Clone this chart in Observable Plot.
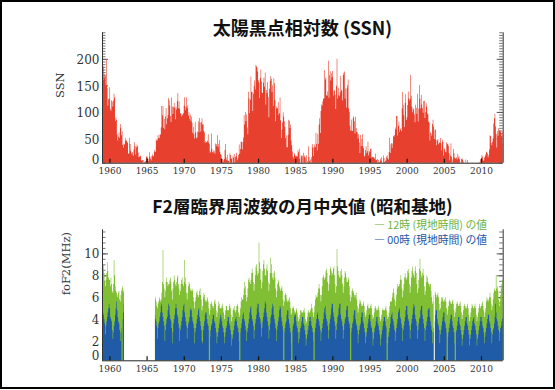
<!DOCTYPE html>
<html lang="ja">
<head>
<meta charset="utf-8">
<script src="https://cdn.jsdelivr.net/npm/d3@7"></script>
<script src="https://cdn.jsdelivr.net/npm/@observablehq/plot@0.6"></script>
<style>
html,body{margin:0;padding:0;background:#fff;}
#wrap{position:relative;width:555px;height:390px;overflow:hidden;background:#fff;}
#border{position:absolute;left:0;top:0;width:555px;height:389px;box-sizing:border-box;border:2px solid #000;pointer-events:none;}
.title{position:absolute;left:102px;width:401px;text-align:center;font-family:"Noto Sans CJK JP",sans-serif;font-weight:700;line-height:20px;color:#111;white-space:nowrap;}
.leg{position:absolute;right:68px;text-align:right;font-family:"Noto Sans CJK JP",sans-serif;font-size:10.8px;line-height:12px;white-space:nowrap;}
.chart{position:absolute;left:0;}
</style>
</head>
<body>
<div id="wrap">
  <div id="top" class="chart" style="top:0px"></div>
  <div id="bot" class="chart" style="top:190px"></div>
  <div class="title" style="top:17.3px;font-size:18px">太陽黒点相対数 (SSN)</div>
  <div class="title" style="top:196.3px;font-size:17.5px">F2層臨界周波数の月中央値 (昭和基地)</div>
  <div class="leg" style="top:218.4px;color:#6cb33e">— 12時 (現地時間) の値</div>
  <div class="leg" style="top:232.9px;color:#1d55a3">— 00時 (現地時間) の値</div>
  <div id="border"></div>
</div>
<script>
// ---------- data ----------
const SSN_START = 1959; // monthly values from Jan 1959
const ssn = [
185,160,185.7,163.3,172.0,168.7,149.6,199.6,145.2,111.4,124.0,125.0,
146.3,106.0,102.2,122.0,119.6,110.2,121.7,134.1,127.2,82.8,89.6,85.6,
57.9,46.1,53.0,61.4,51.0,77.4,70.2,55.9,63.6,37.7,32.6,40.0,
38.7,50.3,45.6,46.4,43.7,42.0,21.8,21.8,51.3,39.5,26.9,23.2,
19.8,24.4,17.1,29.3,43.0,35.9,19.6,33.2,38.8,35.3,23.4,14.9,
15.3,17.7,16.5,8.6,9.5,9.1,3.1,9.3,4.7,6.1,7.4,15.1,
17.5,14.2,11.7,6.8,24.1,15.9,11.9,8.9,16.8,20.1,15.8,17.0,
28.2,24.4,25.3,48.7,45.3,47.7,56.7,51.2,50.2,57.2,57.2,70.4,
110.9,93.6,111.8,69.5,86.5,67.3,91.5,107.2,76.8,88.2,94.3,126.4,
121.8,111.9,92.2,81.2,127.2,110.3,96.1,109.3,117.2,107.7,86.0,109.8,
104.4,120.5,135.8,106.8,120.0,106.0,96.8,98.0,91.3,95.7,93.5,97.9,
111.5,127.8,102.9,109.5,127.5,106.8,112.5,93.0,99.5,86.6,95.2,83.5,
91.3,79.0,60.7,71.8,57.5,49.8,81.0,61.4,50.2,51.7,63.2,82.2,
61.5,88.4,80.1,63.2,80.5,88.0,76.5,76.8,64.0,61.3,41.6,45.3,
43.4,42.9,46.0,57.7,42.4,39.5,23.1,25.6,59.3,30.7,23.9,23.3,
27.6,26.0,21.3,40.3,39.5,36.0,55.8,33.6,40.2,47.1,25.0,20.5,
18.9,11.5,11.5,5.1,9.0,11.4,28.2,39.7,13.9,9.1,19.4,7.8,
8.1,4.3,21.9,18.8,12.4,12.2,1.9,16.4,13.5,20.6,5.2,15.3,
16.4,23.1,8.7,12.9,18.6,38.5,21.4,30.1,44.0,43.8,29.1,43.2,
51.9,93.6,76.5,99.7,82.7,95.1,70.4,58.1,138.2,125.1,97.9,122.7,
166.6,137.5,138.0,101.5,134.4,149.5,159.4,142.2,188.4,186.2,183.3,176.3,
159.6,155.0,126.2,164.1,179.9,157.3,136.3,135.4,155.0,164.7,147.9,174.4,
114.0,141.3,135.5,156.4,127.5,90.0,143.8,158.7,167.3,162.4,137.5,150.1,
111.2,163.6,153.8,122.0,82.2,110.4,106.1,107.6,118.8,94.7,98.1,127.0,
84.3,51.0,66.5,80.7,99.2,91.1,82.2,71.8,50.3,55.8,33.3,33.4,
57.0,85.1,83.5,69.7,76.4,46.1,37.4,25.5,15.7,12.0,22.8,18.7,
16.5,15.9,17.2,16.2,27.5,24.2,30.7,11.1,3.9,18.6,16.2,17.3,
2.5,23.2,15.1,18.5,13.7,1.1,18.1,7.4,3.8,35.4,15.2,6.8,
10.4,2.4,14.7,39.6,33.0,17.4,33.0,38.7,33.9,60.6,39.9,27.1,
59.0,40.0,76.2,88.0,60.1,101.8,113.8,111.6,120.1,125.1,125.1,179.2,
161.3,165.1,131.4,130.6,138.5,196.2,126.9,168.9,176.7,159.4,173.0,165.5,
177.3,130.5,140.3,140.3,132.2,105.4,149.4,200.3,125.2,145.5,131.4,129.7,
136.9,167.5,141.9,140.0,121.3,169.7,173.7,176.3,125.3,144.1,108.2,144.4,
150.0,161.1,106.7,99.8,73.8,65.2,85.7,64.5,63.9,88.7,91.8,82.6,
59.3,91.0,69.8,62.2,61.3,49.8,57.9,42.3,22.4,56.4,35.6,48.9,
57.8,35.5,31.7,16.1,17.8,28.0,35.1,22.5,25.7,44.0,18.0,26.2,
24.2,29.9,31.1,14.0,14.5,15.6,14.5,14.3,11.8,21.1,9.0,10.0,
11.5,4.4,9.2,4.8,5.5,11.8,8.2,14.4,1.6,0.9,17.9,13.3,
5.7,7.6,8.7,15.5,18.5,12.7,10.4,24.4,51.3,22.8,39.0,41.2,
31.9,40.3,54.8,53.4,56.3,70.7,66.6,92.2,92.9,55.5,74.0,81.9,
62.0,66.3,68.8,63.7,106.4,137.7,113.5,93.7,71.5,116.7,133.2,84.6,
90.1,112.9,138.5,125.5,121.6,124.9,170.1,130.5,109.7,99.4,106.8,104.4,
95.6,80.6,113.5,107.7,96.6,134.0,81.8,106.4,150.7,125.5,106.5,132.2,
114.1,107.4,98.4,120.7,120.8,88.3,99.6,116.4,109.6,97.5,95.0,81.6,
79.5,46.2,61.5,60.0,55.2,77.4,85.0,72.7,48.8,65.5,67.3,47.0,
37.2,46.0,48.9,39.3,41.5,43.2,51.0,40.9,27.7,48.0,43.5,17.9,
31.3,29.2,24.5,24.2,42.7,39.3,40.1,36.4,21.9,8.7,18.0,41.1,
15.3,4.9,10.6,30.2,22.3,13.9,12.2,12.9,14.4,10.5,21.4,13.6,
16.8,10.7,4.5,3.4,11.7,12.1,9.7,6.0,2.4,0.9,1.7,10.1,
3.3,2.1,9.3,2.9,3.2,3.4,0.5,0.5,1.1,2.9,4.1,0.8,
1.5,1.4,0.7,1.2,2.9,2.6,3.5,0.0,4.3,4.8,4.1,10.8,
13.2,18.8,15.4,8.0,8.7,13.6,16.1,19.6,25.2,23.5,21.6,14.4,
19.0,29.4,56.2,54.4,41.6,37.0,43.9,50.6,78.0,88.0,96.7,73.0,
58.3,33.1,64.2,55.2,69.0,64.5,66.5,63.0,61.4,53.3,61.8,40.8
];

// foF2 monthly medians at Syowa (MHz). Segment A: Jan 1959 - Dec 1961
const F_A_START = 1959;
const f12a = [
8.8,8.6,9.0,8.2,7.4,7.0,7.6,8.2,9.2,8.4,7.8,7.6,
7.6,7.0,7.8,7.2,6.6,6.4,7.2,9.4,8.0,7.0,6.6,6.4,
6.2,6.0,6.4,6.6,5.8,5.6,6.2,6.6,6.8,7.0,6.6,6.4
];
const f00a = [
5.2,4.6,4.4,4.0,3.6,2.6,3.4,3.8,4.2,4.6,5.0,5.4,
5.0,4.2,4.0,3.8,3.0,2.2,2.8,3.4,3.8,4.4,5.0,5.6,
4.8,4.2,3.8,3.6,3.0,2.0,2.8,3.2,null,4.0,4.6,5.4
];
// Segment B: Jan 1966 - Dec 2012
const F_B_START = 1966;
const f12b = [
null,5.8,6.0,5.6,5.2,5.0,5.4,5.6,6.0,5.8,5.6,5.8,
6.4,7.4,10.3,7.2,6.8,6.0,6.6,7.4,7.8,7.4,7.0,7.2,
7.2,7.6,7.8,7.4,6.6,5.8,6.8,7.4,8.0,7.6,7.2,7.0,
7.4,7.8,8.0,7.2,6.8,6.2,6.6,7.2,7.6,7.8,7.2,7.0,
7.4,9.4,7.8,7.2,6.4,5.8,6.4,7.0,7.4,7.2,6.8,6.6,
6.6,6.8,6.6,6.0,5.6,5.0,5.6,6.0,6.4,6.6,6.2,6.0,
6.2,6.6,6.8,6.2,5.8,4.8,5.2,6.0,6.4,6.2,5.8,5.6,
5.6,5.8,6.0,5.6,5.0,4.4,4.8,5.4,5.6,5.4,5.2,5.0,
5.2,5.6,5.8,5.4,4.8,4.2,4.6,5.2,5.6,5.4,5.0,5.0,
5.0,5.2,5.4,5.0,4.6,4.0,4.4,4.8,5.2,5.2,4.8,4.8,
4.8,5.2,5.4,5.0,4.4,3.8,4.2,4.8,5.0,5.2,4.8,4.6,
4.8,5.2,5.4,5.2,4.6,4.2,4.4,5.0,5.6,6.0,5.8,5.8,
6.2,6.8,7.4,7.0,6.2,5.6,6.0,6.8,7.6,7.8,7.4,7.2,
7.6,8.2,8.6,8.2,7.4,6.6,7.2,8.0,8.8,9.0,8.4,8.0,
8.2,11.0,9.2,8.6,7.6,6.8,7.4,8.4,9.0,9.4,8.6,8.0,
8.0,8.6,9.0,8.4,7.4,6.6,7.2,8.2,9.6,9.0,8.2,7.8,
7.6,8.2,8.4,7.8,6.8,6.0,6.6,7.2,7.6,7.4,7.0,6.8,
6.6,6.8,7.0,6.6,5.8,5.2,5.6,6.2,6.4,6.2,5.8,5.6,
5.6,5.8,6.0,5.6,5.0,4.4,4.6,5.0,5.2,5.0,4.8,4.6,
4.6,4.8,5.0,4.6,4.2,3.8,4.0,4.4,4.8,4.8,4.6,4.6,
4.6,4.8,5.0,4.6,4.0,3.6,3.8,4.2,4.6,4.8,4.6,4.6,
4.8,5.0,5.4,5.0,4.6,4.2,4.6,5.2,5.8,6.2,6.0,6.0,
6.4,6.8,7.2,6.8,6.2,5.6,6.2,7.0,7.8,8.0,7.8,7.6,
7.8,8.4,8.6,8.2,7.4,6.6,7.2,8.0,8.6,8.8,8.4,8.0,
8.2,8.6,8.8,8.0,7.2,6.4,7.0,10.4,8.8,8.4,8.0,7.8,
7.8,8.4,8.6,8.0,7.2,6.4,7.0,7.8,8.4,8.2,7.8,7.4,
7.4,7.6,7.8,7.0,6.2,5.6,6.0,6.6,6.8,6.6,6.4,6.2,
6.0,6.2,6.4,5.8,5.2,4.6,5.0,5.4,5.8,5.6,5.4,5.2,
5.2,5.4,5.6,5.2,4.6,4.2,4.4,4.8,5.2,5.4,5.0,5.0,
5.0,5.2,5.4,5.0,4.4,4.0,4.2,4.6,5.0,5.2,5.0,4.8,
4.8,5.0,5.2,4.8,4.2,3.8,4.0,4.4,4.8,5.0,4.8,4.8,
4.8,5.0,5.2,4.8,4.4,4.0,4.2,4.6,5.2,5.6,5.6,5.6,
6.0,6.4,6.8,6.4,5.8,5.2,5.6,6.2,6.8,7.2,7.0,7.0,
7.2,7.6,8.0,7.6,6.8,6.0,6.6,7.2,7.8,8.2,7.8,7.6,
7.8,8.4,8.6,8.2,7.2,6.4,7.0,7.8,8.4,8.8,8.2,8.0,
7.8,8.4,8.8,8.2,7.2,6.4,6.8,7.6,8.6,9.5,8.4,8.0,
7.8,8.2,8.6,8.0,7.0,6.2,6.6,7.4,8.0,7.8,7.4,7.2,
7.0,7.2,7.2,6.6,6.0,5.4,5.6,6.2,null,6.6,6.4,6.2,
6.0,6.2,6.4,6.0,5.4,4.8,5.0,5.6,6.0,6.0,5.8,5.6,
5.6,5.8,6.0,5.6,5.0,4.4,4.8,5.2,5.6,5.8,5.6,5.4,
5.4,5.6,5.8,5.4,4.8,4.2,4.6,5.0,5.4,5.6,5.4,5.2,
5.2,5.4,5.6,5.2,4.6,4.0,4.4,4.8,5.2,5.4,5.2,5.0,
5.0,5.2,5.4,5.0,4.4,3.8,4.2,4.6,5.0,5.4,5.2,5.0,
5.0,5.2,5.4,5.0,4.4,3.8,4.2,4.6,5.0,5.4,5.2,5.0,
5.2,5.4,5.6,5.2,4.8,4.2,4.6,5.0,5.6,6.0,5.8,5.6,
5.8,6.0,6.4,6.0,5.4,4.8,5.2,5.8,6.4,6.8,6.6,6.6,
8.0,6.8,7.0,6.6,5.8,5.2,5.6,6.2,6.8,7.2,7.6,7.6
];
const f00b = [
null,4.4,4.0,3.8,3.4,2.2,3.2,3.6,3.8,4.2,4.6,5.2,
5.4,4.6,4.2,3.8,3.4,2.0,3.0,3.6,4.0,4.2,4.8,5.4,
5.2,4.4,4.0,3.8,3.2,1.8,2.8,3.6,4.0,4.4,5.0,5.4,
5.0,4.4,4.2,3.6,3.2,2.0,3.0,3.4,3.8,4.2,4.8,5.2,
5.4,4.6,4.2,3.8,3.4,2.2,3.2,3.6,3.8,4.2,4.8,5.0,
4.8,4.2,3.8,3.6,3.2,1.8,2.8,3.2,3.6,4.0,4.4,4.8,
5.0,4.2,3.8,3.4,3.0,2.0,1.8,3.0,3.4,3.8,4.4,4.6,
4.6,4.0,3.6,3.4,3.0,null,2.4,3.0,3.4,3.6,4.0,4.4,
4.4,3.8,3.6,3.2,2.8,1.8,2.4,2.8,3.2,3.6,4.0,4.4,
4.2,3.8,3.4,3.2,2.8,1.8,2.4,2.8,3.2,3.4,3.8,4.2,
4.2,3.6,3.4,3.0,2.6,1.6,2.2,2.6,3.0,3.4,3.8,4.0,
4.2,3.8,3.4,3.2,2.8,2.0,null,2.8,3.2,3.6,4.0,4.4,
4.6,4.0,3.8,3.4,3.0,2.0,2.8,3.2,3.6,4.0,4.6,5.0,
5.2,4.4,4.0,3.8,3.4,2.2,3.0,3.6,4.0,4.4,5.0,5.4,
5.4,4.6,4.2,4.0,3.6,2.4,3.2,3.8,4.2,4.6,5.0,5.6,
5.4,4.6,4.2,3.8,3.4,2.2,3.0,3.6,4.2,4.4,5.0,5.4,
5.2,4.4,4.0,3.6,3.2,2.0,3.0,3.4,3.8,4.2,4.8,5.2,
5.0,4.2,3.8,3.4,3.0,null,2.8,3.2,3.6,3.8,4.4,4.8,
4.8,4.0,3.6,3.2,2.8,1.8,null,3.0,3.4,3.6,4.2,4.4,
4.4,3.8,3.4,3.2,2.8,1.8,2.2,2.8,3.2,3.4,3.8,4.2,
4.2,3.6,3.4,3.0,2.6,1.6,2.2,2.6,3.0,3.4,3.8,4.2,
4.2,3.8,3.4,3.2,2.8,2.0,null,2.8,3.2,3.6,4.0,4.4,
4.6,4.0,3.8,3.4,3.0,2.0,2.8,3.2,3.6,4.0,4.6,5.0,
5.2,4.4,4.0,3.8,3.4,2.2,3.0,3.6,4.0,4.4,5.0,5.4,
5.4,4.6,4.2,3.8,3.4,2.2,3.0,3.6,4.2,4.4,5.0,5.4,
5.4,4.4,4.0,3.8,3.4,2.2,3.0,3.6,4.0,4.2,4.8,5.2,
5.2,4.2,3.8,3.6,3.2,null,2.8,3.2,3.6,3.8,4.4,4.8,
4.8,4.0,3.6,3.4,3.0,1.8,2.6,3.0,3.4,3.6,4.2,4.6,
4.6,3.8,3.6,3.2,2.8,1.8,2.4,2.8,3.2,3.6,4.0,4.4,
4.4,3.8,3.4,3.2,2.8,1.6,2.2,2.8,3.2,3.4,3.8,4.2,
4.2,3.6,3.4,3.0,2.6,1.6,2.2,2.6,3.0,3.4,3.8,4.2,
4.2,3.8,3.4,3.2,null,1.8,2.4,2.8,3.2,3.6,4.2,4.4,
4.6,4.0,3.8,3.4,3.0,2.0,2.8,3.2,3.6,4.0,4.6,4.8,
5.0,4.2,4.0,3.6,3.2,2.0,3.0,3.4,3.8,4.2,4.8,5.2,
5.2,4.4,4.0,3.8,3.4,2.2,3.0,3.6,4.0,4.4,5.0,5.4,
5.2,4.4,4.0,3.8,3.4,2.2,3.0,3.6,4.0,4.2,4.8,5.2,
5.2,4.4,4.0,3.6,3.2,2.0,3.0,3.4,3.8,4.2,4.8,5.0,
5.0,4.2,3.8,3.4,3.0,1.8,2.8,3.2,null,3.8,4.4,4.8,
4.8,4.0,3.6,3.4,3.0,1.8,2.6,3.0,3.4,3.8,4.2,4.6,
4.6,3.8,3.6,3.2,2.8,null,2.4,2.8,3.2,3.6,4.0,4.4,
4.4,3.8,3.4,3.2,2.8,1.8,null,2.8,3.0,3.4,3.8,4.2,
4.2,3.6,3.4,3.0,2.6,1.6,2.2,2.6,3.0,3.4,3.8,4.2,
4.2,3.6,3.4,3.0,2.6,1.6,2.2,2.6,3.0,3.4,3.8,4.0,
4.2,3.6,3.4,3.0,2.6,1.6,2.2,2.6,3.0,3.4,3.8,4.2,
4.2,3.8,3.4,3.2,2.8,1.8,2.4,2.8,3.2,3.6,4.0,4.4,
4.4,3.8,3.6,3.2,2.8,1.8,2.6,3.0,3.2,3.6,4.2,5.4,
4.6,4.0,3.8,3.4,3.0,2.0,2.8,3.2,3.4,3.8,4.0,4.2
];

// ticks
const yearTicks = [1960,1965,1970,1975,1980,1985,1990,1995,2000,2005,2010];
const ssnTicks = [0,50,100,150,200];
const fTicks = [0,2,4,6,8,10];

// ---------- styling ----------
const RED = "#e8402f", GREEN = "#80bf33", BLUE = "#1f5ba6";
const SERIF = "DejaVu Serif, Liberation Serif, serif";
const X_DOMAIN = [1959.0, 2012.92];
const ML = 102, MR = 52.3, W = 555;
const PW = W - ML - MR;

const monthly = (arr, start, seg) => arr.map((v, i) => ({t: start + (i + 0.5) / 12, v, seg}));

function panel({rows, yDomain, majors, minorStep, height, mt, mb, yLabel, labelDx, labelDy, zeroDy, tickLabelSize}) {
  const PH = height - mt - mb;
  const minors = d3.range(0, yDomain[1] + 1e-9, minorStep).filter(v => v >= yDomain[0]);
  const majorsIn = majors.filter(v => v >= yDomain[0]);
  const txt = {fontFamily: SERIF, fill: "#333"};
  return Plot.plot({
    width: W, height, marginLeft: ML, marginRight: MR, marginTop: mt, marginBottom: mb,
    x: {domain: X_DOMAIN, axis: null},
    y: {domain: yDomain, axis: null},
    style: {fontFamily: SERIF, background: "transparent", color: "#333", overflow: "visible"},
    marks: [
      Plot.ruleY(minors, {insetRight: PW - 3.5, stroke: "#777"}),
      Plot.ruleY(minors, {insetLeft: PW - 3.5, stroke: "#777"}),
      Plot.ruleY(majorsIn, {insetRight: PW - 6, stroke: "#555"}),
      Plot.ruleY(majorsIn, {insetLeft: PW - 6, stroke: "#555"}),
      ...rows.map(r => Plot.areaY(r.data, {x: "t", y1: 0, y2: "v", z: "seg", curve: "step", fill: r.color, clip: true})),
      Plot.ruleX(X_DOMAIN, {stroke: "#333"}),
      Plot.ruleY([yDomain[0]], {stroke: "#222"}),
      Plot.ruleX(yearTicks, {insetTop: PH - 4, stroke: "#111", strokeWidth: 1.2}),
      Plot.text(majors.filter(v => v > 0), {y: d => d, text: d => String(d), frameAnchor: "left", textAnchor: "end", dx: -3, dy: labelDy, fontSize: tickLabelSize, ...txt}),
      Plot.text([0], {y: d => d, text: d => String(d), frameAnchor: "left", textAnchor: "end", dx: -3, dy: zeroDy, fontSize: tickLabelSize, ...txt}),
      Plot.text(yearTicks, {x: d => d, text: d => String(d), frameAnchor: "bottom", lineAnchor: "top", dy: 4.5, fontSize: 9, ...txt}),
      Plot.text([yLabel], {frameAnchor: "left", rotate: -90, dx: labelDx, fontSize: 11.5, ...txt})
    ]
  });
}

document.getElementById("top").append(panel({
  rows: [{data: monthly(ssn, SSN_START, "a"), color: RED}],
  yDomain: [4.3, 250], majors: ssnTicks, minorStep: 5,
  height: 185, mt: 32.3, mb: 22.3, yLabel: "SSN", labelDx: -42, labelDy: 0.8, zeroDy: -5.3, tickLabelSize: 12
}));

const f12Rows = [...monthly(f12a, F_A_START, "a"), ...monthly(f12b, F_B_START, "b")];
const f00Rows = [...monthly(f00a, F_A_START, "a"), ...monthly(f00b, F_B_START, "b")];
document.getElementById("bot").append(panel({
  rows: [{data: f12Rows, color: GREEN}, {data: f00Rows, color: BLUE}],
  yDomain: [0.24, 12.2], majors: fTicks, minorStep: 0.5,
  height: 195, mt: 39.3, mb: 24.7, yLabel: "foF2(MHz)", labelDx: -36, labelDy: 0.5, zeroDy: -6.9, tickLabelSize: 12
}));
</script>
</body>
</html>
